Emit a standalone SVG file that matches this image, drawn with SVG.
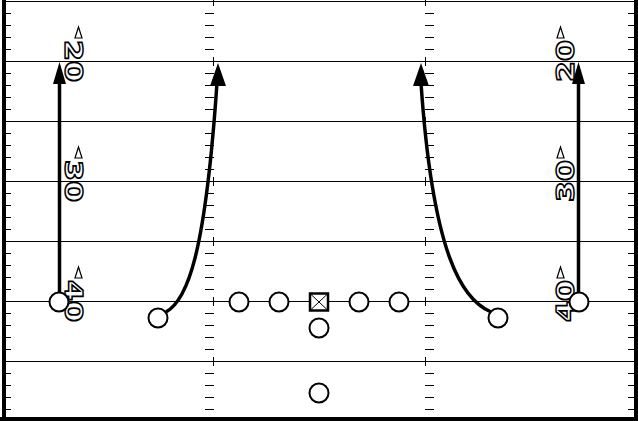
<svg xmlns="http://www.w3.org/2000/svg" width="638" height="421" viewBox="0 0 638 421">
<style>
.yard{stroke:#000;stroke-width:1;fill:none;shape-rendering:crispEdges}
.tick{stroke:#000;stroke-width:1;fill:none;shape-rendering:crispEdges}
.num{font-family:"DejaVu Sans",sans-serif;font-weight:bold;font-size:25px;fill:#fff;stroke:#000;stroke-width:1.5}
.tri{fill:#fff;stroke:#000;stroke-width:1.2}
.player{fill:#fff;stroke:#000;stroke-width:2}
.route{fill:none;stroke:#000;stroke-width:3.5;stroke-linecap:butt}
.head{fill:#000;stroke:none}
</style>
<rect x="0" y="0" width="638" height="421" fill="#fff"/>
<g id="field">
<path class="yard" d="M6,1.5H634M6,61.5H634M6,121.5H634M6,181.5H634M6,241.5H634M6,301.5H634M6,361.5H634"/>
<path class="tick" d="M6,13.5h5M6,25.5h5M6,37.5h5M6,49.5h5M6,73.5h5M6,85.5h5M6,97.5h5M6,109.5h5M6,133.5h5M6,145.5h5M6,157.5h5M6,169.5h5M6,193.5h5M6,205.5h5M6,217.5h5M6,229.5h5M6,253.5h5M6,265.5h5M6,277.5h5M6,289.5h5M6,313.5h5M6,325.5h5M6,337.5h5M6,349.5h5M6,373.5h5M6,385.5h5M6,397.5h5M6,409.5h5"/>
<path class="tick" d="M628,13.5h6M628,25.5h6M628,37.5h6M628,49.5h6M628,73.5h6M628,85.5h6M628,97.5h6M628,109.5h6M628,133.5h6M628,145.5h6M628,157.5h6M628,169.5h6M628,193.5h6M628,205.5h6M628,217.5h6M628,229.5h6M628,253.5h6M628,265.5h6M628,277.5h6M628,289.5h6M628,313.5h6M628,325.5h6M628,337.5h6M628,349.5h6M628,373.5h6M628,385.5h6M628,397.5h6M628,409.5h6"/>
<path class="tick" d="M205,13.5h9M205,25.5h9M205,37.5h9M205,49.5h9M205,73.5h9M205,85.5h9M205,97.5h9M205,109.5h9M205,133.5h9M205,145.5h9M205,157.5h9M205,169.5h9M205,193.5h9M205,205.5h9M205,217.5h9M205,229.5h9M205,253.5h9M205,265.5h9M205,277.5h9M205,289.5h9M205,313.5h9M205,325.5h9M205,337.5h9M205,349.5h9M205,373.5h9M205,385.5h9M205,397.5h9M205,409.5h9M213.5,0v6M213.5,57v9M213.5,117v9M213.5,177v9M213.5,237v9M213.5,297v9M213.5,357v9"/>
<path class="tick" d="M425,13.5h9M425,25.5h9M425,37.5h9M425,49.5h9M425,73.5h9M425,85.5h9M425,97.5h9M425,109.5h9M425,133.5h9M425,145.5h9M425,157.5h9M425,169.5h9M425,193.5h9M425,205.5h9M425,217.5h9M425,229.5h9M425,253.5h9M425,265.5h9M425,277.5h9M425,289.5h9M425,313.5h9M425,325.5h9M425,337.5h9M425,349.5h9M425,373.5h9M425,385.5h9M425,397.5h9M425,409.5h9M425.5,0v6M425.5,57v9M425.5,117v9M425.5,177v9M425.5,237v9M425.5,297v9M425.5,357v9"/>
<rect x="2" y="0" width="4" height="421" fill="#000"/>
<rect x="634" y="0" width="4" height="421" fill="#000"/>
<rect x="0" y="417" width="638" height="4" fill="#000"/>
</g>
<g id="numbers">
<text class="num" transform="translate(65,61) rotate(90)" text-anchor="middle" textLength="42" lengthAdjust="spacingAndGlyphs">20</text>
<text class="num" transform="translate(65,181) rotate(90)" text-anchor="middle" textLength="42" lengthAdjust="spacingAndGlyphs">30</text>
<text class="num" transform="translate(65,301) rotate(90)" text-anchor="middle" textLength="42" lengthAdjust="spacingAndGlyphs">40</text>
<text class="num" transform="translate(574,61) rotate(-90)" text-anchor="middle" textLength="42" lengthAdjust="spacingAndGlyphs">20</text>
<text class="num" transform="translate(574,181) rotate(-90)" text-anchor="middle" textLength="42" lengthAdjust="spacingAndGlyphs">30</text>
<text class="num" transform="translate(574,301) rotate(-90)" text-anchor="middle" textLength="42" lengthAdjust="spacingAndGlyphs">40</text>
<polygon class="tri" points="78.5,27 75,38 82,38"/>
<polygon class="tri" points="78.5,147 75,158 82,158"/>
<polygon class="tri" points="78.5,267 75,278 82,278"/>
<polygon class="tri" points="560.5,27 557,38 564,38"/>
<polygon class="tri" points="560.5,147 557,158 564,158"/>
<polygon class="tri" points="560.5,267 557,278 564,278"/>
</g>
<g id="connectors">
<path class="route" d="M59.5,293V82"/>
<polygon class="head" points="59.5,62 53,84 66,84"/>
<path class="route" d="M578.5,293V82"/>
<polygon class="head" points="578.5,62 572,84 585,84"/>
<path class="route" d="M166,312C187,300 205,258 217,83"/>
<polygon class="head" points="218,63 210,86 226,86"/>
<path class="route" d="M491,312C463,300 433,258 421,83"/>
<polygon class="head" points="421,63 413,86 429,86"/>
</g>
<g id="lwr"><circle class="player" cx="59" cy="302" r="9.5"/></g>
<g id="lslot"><circle class="player" cx="158" cy="318" r="9.5"/></g>
<g id="lt"><circle class="player" cx="239" cy="302" r="9.5"/></g>
<g id="lg"><circle class="player" cx="279" cy="302" r="9.5"/></g>
<g id="c"><rect x="310" y="293.5" width="18" height="17" fill="#fff" stroke="#000" stroke-width="2.5"/><path d="M310,293.5L328,310.5M328,293.5L310,310.5" stroke="#000" stroke-width="1"/></g>
<g id="rg"><circle class="player" cx="359" cy="302" r="9.5"/></g>
<g id="rt"><circle class="player" cx="399" cy="302" r="9.5"/></g>
<g id="qb"><circle class="player" cx="319" cy="328" r="9.5"/></g>
<g id="rb"><circle class="player" cx="319" cy="393" r="9.5"/></g>
<g id="rslot"><circle class="player" cx="498" cy="318" r="9.5"/></g>
<g id="rwr"><circle class="player" cx="579" cy="302" r="9.5"/></g>
</svg>
